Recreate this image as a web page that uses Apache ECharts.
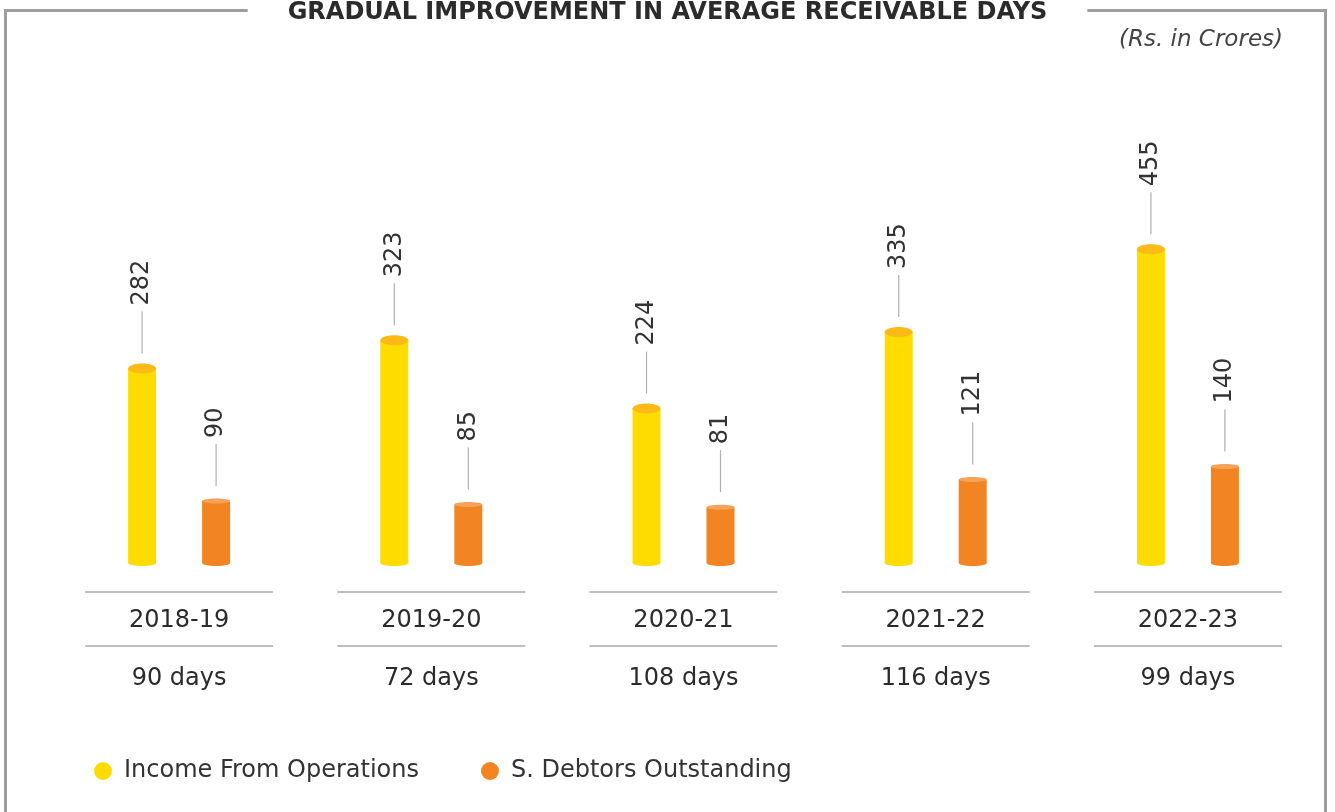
<!DOCTYPE html>
<html>
<head>
<meta charset="utf-8">
<script src="https://cdn.jsdelivr.net/npm/echarts@6/dist/echarts.min.js"></script>
<style>
  html, body { margin: 0; padding: 0; background: #fff; }
  #receivable_days { width: 1335px; height: 812px; }
</style>
</head>
<body>
<div id="receivable_days"></div>
<script>
const categories = ['2018-19', '2019-20', '2020-21', '2021-22', '2022-23'];
const incomeValues = [282, 323, 224, 335, 455];
const debtorValues = [90, 85, 81, 121, 140];
const receivableDays = [90, 72, 108, 116, 99];

const FONT = 'DejaVu Sans';
const BAR_W = 28;

// 圆柱 + 引线 + 竖排数值
const cylinder = (offset, body, cap, capH) => (params, api) => {
    const top = api.coord([api.value(0), api.value(1)]);
    const base = api.coord([api.value(0), 0]);
    const cx = top[0] + offset;
    return {
        type: 'group',
        children: [
            {type: 'ellipse', shape: {cx: cx, cy: base[1], rx: BAR_W / 2, ry: 3}, style: {fill: body}},
            {type: 'rect', shape: {x: cx - BAR_W / 2, y: top[1], width: BAR_W, height: base[1] - top[1]}, style: {fill: body}},
            {type: 'ellipse', shape: {cx: cx, cy: top[1], rx: BAR_W / 2, ry: capH / 2}, style: {fill: cap}},
            {type: 'line', shape: {x1: cx, y1: top[1] - 15, x2: cx, y2: top[1] - 57}, style: {stroke: '#b0b0b0', lineWidth: 1.2}},
            {
                type: 'text', x: cx, y: top[1] - 63, rotation: Math.PI / 2,
                style: {text: String(api.value(1)), fill: '#333', font: '24px "' + FONT + '"', align: 'left', verticalAlign: 'middle'}
            }
        ]
    };
};

const chart = echarts.init(document.getElementById('receivable_days'));
const option = {
    animation: false,
    title: {
        text: 'GRADUAL IMPROVEMENT IN AVERAGE RECEIVABLE DAYS',
        left: 'center',
        top: 1,
        padding: [0, 40],
        backgroundColor: '#fff',
        z: 10,
        textStyle: {fontFamily: FONT, fontSize: 24, fontWeight: 'bold', color: '#2b2b2b'}
    },
    legend: {
        left: 89,
        top: 754,
        icon: 'circle',
        itemWidth: 18,
        itemHeight: 18,
        itemGap: 62,
        textStyle: {fontFamily: FONT, fontSize: 24, color: '#333', padding: [0, 0, 0, 7]},
        data: ['Income From Operations', 'S. Debtors Outstanding']
    },
    grid: {left: 53, right: 21, top: 108, bottom: 249},
    xAxis: {
        type: 'category',
        data: categories,
        axisLine: {show: false},
        axisTick: {show: false},
        axisLabel: {
            margin: 29,
            interval: 0,
            formatter: (v, i) => '{a|' + v + '}\n{b|' + receivableDays[i] + ' days}',
            rich: {
                a: {fontFamily: FONT, fontSize: 24, lineHeight: 58, color: '#2b2b2b'},
                b: {fontFamily: FONT, fontSize: 24, lineHeight: 58, color: '#2b2b2b'}
            }
        }
    },
    yAxis: {type: 'value', min: 0, max: 660, show: false, splitLine: {show: false}},
    series: [
        {
            name: 'Income From Operations',
            type: 'custom',
            itemStyle: {color: '#FFDC00'},
            renderItem: cylinder(-37, '#FFDC00', '#FBBA16', 10),
            encode: {x: 0, y: 1},
            data: incomeValues.map((v, i) => [i, v])
        },
        {
            name: 'S. Debtors Outstanding',
            type: 'custom',
            itemStyle: {color: '#F28521'},
            renderItem: cylinder(37, '#F28521', '#F5A35A', 5),
            encode: {x: 0, y: 1},
            data: debtorValues.map((v, i) => [i, v])
        }
    ]
};
chart.setOption(option);

// 外框、单位、表格分隔线
const graphic = [
    {type: 'rect', z: 0, shape: {x: 5.5, y: 10.5, width: 1320, height: 900}, style: {fill: 'none', stroke: '#9e9ea0', lineWidth: 3}},
    {type: 'text', z: 1, x: 1283, y: 40, style: {text: '(Rs. in Crores)', font: 'italic 23px "' + FONT + '"', fill: '#444', align: 'right', verticalAlign: 'middle'}}
];
categories.forEach((c, i) => {
    const cx = chart.convertToPixel({xAxisIndex: 0}, i);
    [592, 646].forEach(y => {
        graphic.push({type: 'line', z: 1, shape: {x1: cx - 94, y1: y, x2: cx + 94, y2: y}, style: {stroke: '#a8a8a8', lineWidth: 1.5}});
    });
});
chart.setOption({graphic: graphic});
</script>
</body>
</html>
